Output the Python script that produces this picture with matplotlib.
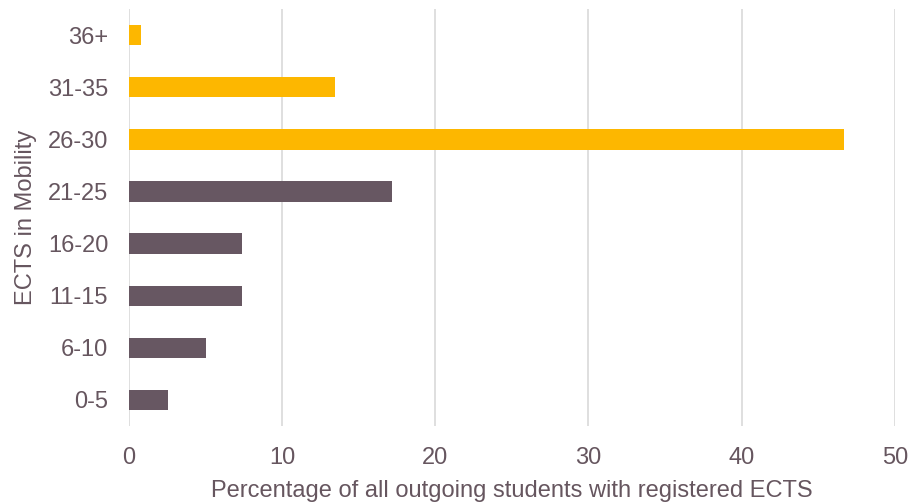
import matplotlib.pyplot as plt

categories = ["0-5", "6-10", "11-15", "16-20", "21-25", "26-30", "31-35", "36+"]
percentages = [2.55, 5.05, 7.35, 7.35, 17.15, 46.7, 13.45, 0.8]
highlight = [False, False, False, False, False, True, True, True]

grey = "#675762"
yellow = "#FDB700"
text_col = "#66565F"

plt.rcParams["font.family"] = ["Liberation Sans", "DejaVu Sans"]

fig = plt.figure(figsize=(9.16, 5.03), dpi=100)
ax = fig.add_axes([0.1408, 0.153, 0.836, 0.829])

colors = [yellow if h else grey for h in highlight]
ax.barh(categories, percentages, height=0.39, color=colors, zorder=3)

ax.set_xlim(0, 50)
ax.set_ylim(-0.5, len(categories) - 0.5)
ax.set_xticks([0, 10, 20, 30, 40, 50])
ax.grid(axis="x", color="#D9D9D9", linewidth=1.2, zorder=0)
ax.set_axisbelow(True)
for s in ax.spines.values():
    s.set_visible(False)
ax.tick_params(length=0, labelsize=17, colors=text_col)
ax.tick_params(axis="y", pad=15)
ax.tick_params(axis="x", pad=15)

ax.set_xlabel("Percentage of all outgoing students with registered ECTS",
              fontsize=17, color=text_col, labelpad=8)
ax.set_ylabel("ECTS in Mobility", fontsize=17, color=text_col, labelpad=8)

fig.savefig("out.png", dpi=100)
